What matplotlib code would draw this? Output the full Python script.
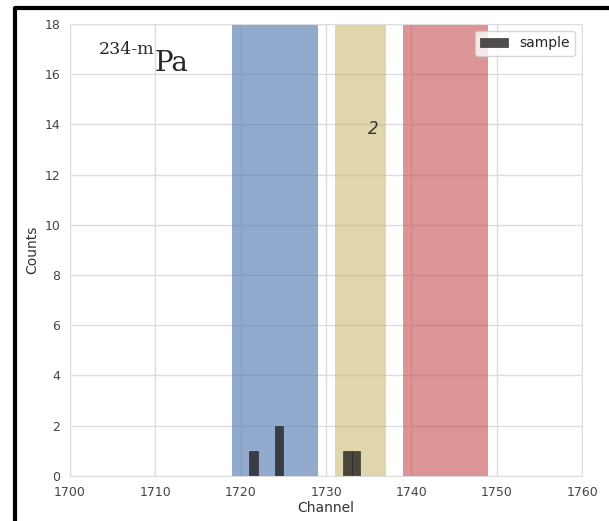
import numpy as np
import matplotlib
matplotlib.use('Agg')
import matplotlib.pyplot as plt
import seaborn as sns
from matplotlib.lines import Line2D


# channel windows (start, stop) and their colours
regions = [(1719, 1729), (1731, 1737), (1739, 1749)]
region_colors = ['#4C72B0', '#CCB974', '#C44E52']

# histogram of the sample: channel bin start -> counts
channels = [1721, 1724, 1732, 1733]
counts = [1, 2, 1, 1]

peak_label = '2'
peak_pos = (1735.5, 13.8)

isotope_mass = '234-m'
isotope_name = 'Pa'


def main():
    sns.set_style('whitegrid')
    plt.rcParams['font.family'] = ['DejaVu Sans']

    fig = plt.figure(figsize=(6.09, 5.21), dpi=100)
    ax = fig.add_axes([0.115, 0.0864, 0.841, 0.868])

    for (lo, hi), col in zip(regions, region_colors):
        ax.axvspan(lo, hi, color=col, alpha=0.6, lw=0)

    ax.bar(channels, counts, width=1, align='edge', color='#222222',
           alpha=0.8, label='sample', edgecolor='#222222', linewidth=0.5)

    ax.text(peak_pos[0], peak_pos[1], peak_label, fontsize=12,
            style='italic', ha='center', va='center', color='#333333')

    # isotope label: small raised mass number, then the element
    ax.text(1703.4, 16.8, isotope_mass, fontsize=12.5,
            family='DejaVu Serif', ha='left', va='baseline')
    ax.text(1709.9, 16.1, isotope_name, fontsize=20,
            family='DejaVu Serif', ha='left', va='baseline')

    ax.set_xlim(1700, 1760)
    ax.set_ylim(0, 18)
    ax.set_xticks(np.arange(1700, 1761, 10))
    ax.set_yticks(np.arange(0, 19, 2))
    ax.tick_params(labelsize=9, colors='#444444', length=0, pad=7)
    ax.set_xlabel('Channel', fontsize=10, color='#333333', labelpad=2)
    ax.set_ylabel('Counts', fontsize=10, color='#333333', labelpad=4)
    ax.grid(True, color='#dddddd', lw=1)
    for s in ax.spines.values():
        s.set_color('#dddddd')
    ax.legend(loc='upper right', fontsize=10, frameon=True)

    # black frame at left and top (cropped screenshot look)
    fig.add_artist(Line2D([0.0246, 0.0246, 1.0], [0.0, 0.985, 0.985],
                          transform=fig.transFigure, color='black', lw=3))

    fig.savefig('out.png', dpi=100)


if __name__ == '__main__':
    main()
